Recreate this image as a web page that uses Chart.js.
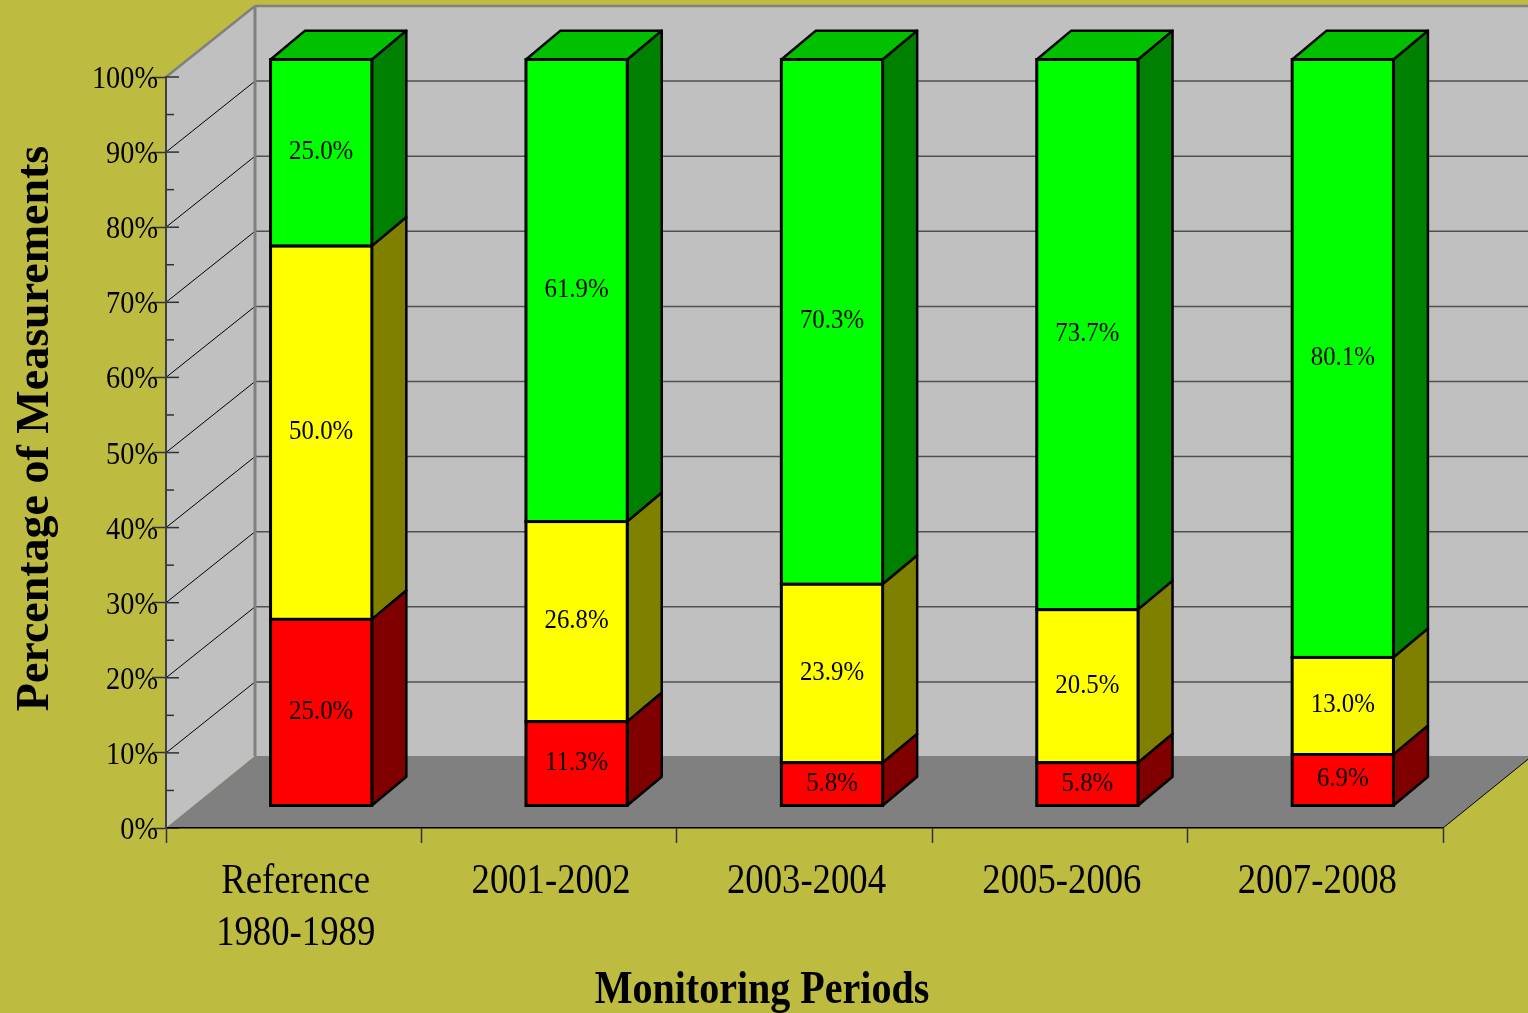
<!DOCTYPE html>
<html lang="en">

<head>
  <meta charset="UTF-8" />
  <title>Monitoring Periods</title>
  <style>
    html, body { margin: 0; padding: 0; background: #bdbb40; overflow: hidden; }
    canvas { display: block; }
  </style>
</head>

<body>
  <canvas id="myChart" width="1528" height="1013"></canvas>

  <script src="https://cdn.jsdelivr.net/npm/chart.js"></script>
  <script>
    const categories = [["Reference", "1980-1989"], "2001-2002", "2003-2004", "2005-2006", "2007-2008"];
    const redValues = [25.0, 11.3, 5.8, 5.8, 6.9];
    const yellowValues = [50.0, 26.8, 23.9, 20.5, 13.0];
    const greenValues = [25.0, 61.9, 70.3, 73.7, 80.1];
    const yTitle = "Percentage of Measurements";
    const xTitle = "Monitoring Periods";

    const SERIF = '"Liberation Serif", "Times New Roman", serif';

    // depth of the fake 3D box and of each bar
    const WALL_DX = 89, WALL_DY = 71;
    const BAR_DX = 34.5, BAR_DY = 29;
    const BAR_SHIFT_X = 27.5, BAR_BASE_Y = 806, BAR_YSCALE = 746.5 / 751;

    function poly(ctx, pts, fill, stroke, lw) {
      ctx.beginPath();
      pts.forEach((p, i) => (i ? ctx.lineTo(p[0], p[1]) : ctx.moveTo(p[0], p[1])));
      ctx.closePath();
      if (fill) { ctx.fillStyle = fill; ctx.fill(); }
      if (stroke) { ctx.strokeStyle = stroke; ctx.lineWidth = lw; ctx.lineJoin = "round"; ctx.stroke(); }
    }

    function line(ctx, x1, y1, x2, y2, color, lw) {
      ctx.beginPath();
      ctx.moveTo(x1, y1);
      ctx.lineTo(x2, y2);
      ctx.strokeStyle = color;
      ctx.lineWidth = lw;
      ctx.stroke();
    }

    // the original type is squeezed sideways, canvas fonts can't do that on their own
    function squeezed(ctx, text, x, y, font, hscale, align) {
      ctx.save();
      ctx.translate(x, y);
      ctx.scale(hscale, 1);
      ctx.font = font;
      ctx.textAlign = align;
      ctx.textBaseline = "alphabetic";
      ctx.fillStyle = "#000000";
      ctx.fillText(text, 0, 0);
      ctx.restore();
    }

    const box3d = {
      id: "box3d",
      // walls and floor go under the scales
      beforeDraw(chart) {
        const { ctx, chartArea: a, scales: { y }, width } = chart;
        const bx = a.left + WALL_DX, by = a.bottom - 72, ty = a.top - WALL_DY;
        ctx.save();
        ctx.fillStyle = "#bdbb40";
        ctx.fillRect(0, 0, chart.width, chart.height);

        // back wall + left wall
        poly(ctx, [[bx, ty], [width + 10, ty], [width + 10, by], [bx, by]], "#c0c0c0");
        poly(ctx, [[a.left, a.top], [bx, ty], [bx, by], [a.left, a.bottom]], "#c0c0c0");

        // grid lines, every 10
        for (let v = 10; v < 100; v += 10) {
          const py = y.getPixelForValue(v);
          line(ctx, a.left, py, bx, py - WALL_DY, "#000000", 1);
          line(ctx, bx, py - WALL_DY, width, py - WALL_DY, "#505050", 1.5);
        }

        // floor
        poly(ctx, [[a.left, a.bottom], [bx, by], [a.right + WALL_DX, by], [a.right, a.bottom]], "#808080");
        line(ctx, a.right, a.bottom, a.right + WALL_DX, by, "#000000", 1);

        // wall edges
        line(ctx, a.left, a.top, bx, ty, "#808080", 2.5);
        line(ctx, bx, ty, width, ty, "#808080", 2.5);
        line(ctx, bx, ty, bx, by, "#808080", 3);

        // inner part of the tick marks
        for (let v = 0; v <= 100; v += 5) {
          const py = y.getPixelForValue(v);
          const inner = v % 10 === 0 ? 13 : 8;
          line(ctx, a.left, py, a.left + inner, py, "#303030", 1.5);
        }
        ctx.restore();
      },
      beforeDatasetDraw(chart, args) {
        const { ctx, chartArea: a } = chart;
        ctx.save();
        ctx.translate(BAR_SHIFT_X, BAR_BASE_Y);
        ctx.scale(1, BAR_YSCALE);
        ctx.translate(0, -a.bottom);

        const ds = chart.data.datasets[args.index];
        const last = args.index === chart.data.datasets.length - 1;
        args.meta.data.forEach((bar) => {
          const r = bar.getProps(["x", "y", "base", "width"], true);
          const x2 = r.x + r.width / 2;
          const x1 = r.x - r.width / 2;
          poly(ctx, [[x2, r.y], [x2 + BAR_DX, r.y - BAR_DY], [x2 + BAR_DX, r.base - BAR_DY], [x2, r.base]], ds.sideColor, "#000000", 2.5);
          if (last) {
            poly(ctx, [[x1, r.y], [x1 + BAR_DX, r.y - BAR_DY], [x2 + BAR_DX, r.y - BAR_DY], [x2, r.y]], ds.topColor, "#000000", 2.5);
          }
        });
      },
      afterDatasetDraw(chart, args) {
        const { ctx } = chart;
        // outline of the front faces, still in the shifted space
        ctx.strokeStyle = "#000000";
        ctx.lineWidth = 3;
        ctx.lineJoin = "miter";
        args.meta.data.forEach((bar) => {
          const r = bar.getProps(["x", "y", "base", "width"], true);
          ctx.strokeRect(r.x - r.width / 2, r.y, r.width, r.base - r.y);
        });
        ctx.restore();
      },
      afterDatasetsDraw(chart) {
        const { ctx, chartArea: a, scales: { x, y } } = chart;

        // value labels
        chart.data.datasets.forEach((ds, i) => {
          chart.getDatasetMeta(i).data.forEach((bar, j) => {
            const r = bar.getProps(["x", "y", "base"], true);
            const mid = BAR_BASE_Y + ((r.y + r.base) / 2 - a.bottom) * BAR_YSCALE;
            squeezed(ctx, ds.data[j].toFixed(1) + "%", r.x + BAR_SHIFT_X, mid - 2.5 + 9, "27px " + SERIF, 0.92, "center");
          });
        });

        // y tick labels
        y.ticks.forEach((t) => {
          if (t.value % 10 === 0) {
            squeezed(ctx, t.value + "%", 158, y.getPixelForValue(t.value) + 11, "32px " + SERIF, 0.885, "right");
          }
        });

        // category labels
        categories.forEach((c, i) => {
          const lines = Array.isArray(c) ? c : [c];
          lines.forEach((txt, k) => {
            squeezed(ctx, txt, x.getPixelForValue(i) + 2, 893 + k * 52, "41.5px " + SERIF, 0.885, "center");
          });
        });

        // axis titles sit off-centre in the original so they are placed here
        squeezed(ctx, xTitle, 762, 1003, "bold 46px " + SERIF, 0.87, "center");
        ctx.save();
        ctx.translate(48, 428.5);
        ctx.rotate(-Math.PI / 2);
        squeezed(ctx, yTitle, 0, 0, "bold 46px " + SERIF, 1, "center");
        ctx.restore();
      },
    };

    function makeSeries(label, data, color, sideColor, topColor) {
      return {
        label,
        data,
        backgroundColor: color,
        borderWidth: 0,
        sideColor,
        topColor,
        clip: false,
      };
    }

    new Chart(document.getElementById("myChart").getContext("2d"), {
      type: "bar",
      data: {
        labels: categories,
        datasets: [
          makeSeries("Red", redValues, "#ff0000", "#800000"),
          makeSeries("Yellow", yellowValues, "#ffff00", "#808000"),
          makeSeries("Green", greenValues, "#00ff00", "#008000", "#00c000"),
        ],
      },
      options: {
        responsive: false,
        animation: false,
        barPercentage: 0.3965,
        categoryPercentage: 1,
        layout: { padding: { top: 77, right: 85, left: 0, bottom: 0 } },
        plugins: {
          legend: { display: false },
          tooltip: { enabled: false },
        },
        scales: {
          x: {
            stacked: true,
            border: { color: "#000000", width: 1.5 },
            grid: { offset: true, drawOnChartArea: false, tickLength: 15, tickColor: "#303030", tickWidth: 1.5 },
            ticks: { display: false },
            afterFit(scale) { scale.height = 185; },
          },
          y: {
            stacked: true,
            min: 0,
            max: 100,
            border: { color: "#404040", width: 2 },
            grid: {
              drawOnChartArea: false,
              tickLength: 14,
              tickWidth: 1.5,
              tickColor: (c) => (c.tick.value % 10 === 0 ? "#303030" : "rgba(0,0,0,0)"),
            },
            ticks: { display: false, stepSize: 5, autoSkip: false },
            afterFit(scale) { scale.width = 166; },
          },
        },
      },
      plugins: [box3d],
    });
  </script>
</body>

</html>
